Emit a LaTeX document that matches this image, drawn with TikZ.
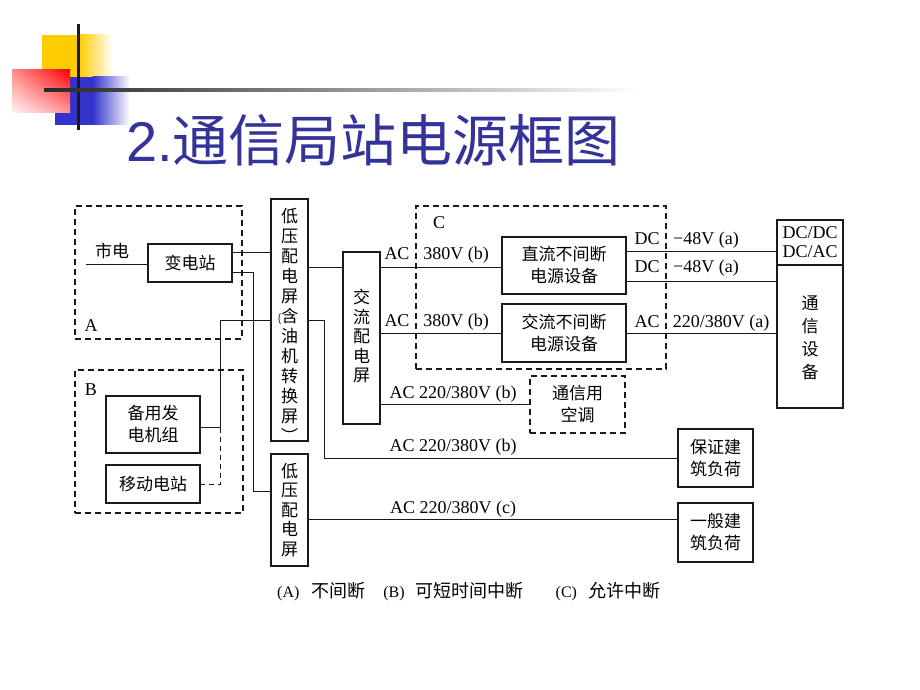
\documentclass[tikz,border=0pt]{standalone}
\usepackage{fontspec}
\setmainfont{Liberation Serif}
\newfontfamily\cjk{Noto Sans CJK SC}
\newfontfamily\titlesans{Liberation Sans}
\usetikzlibrary{calc,shadings}
\definecolor{titleblue}{HTML}{333399}
\definecolor{lyellow}{HTML}{FFCC00}
\definecolor{lblue}{HTML}{3333CC}
\definecolor{lred}{HTML}{FF0000}
\definecolor{ink}{HTML}{1A1A1A}
\tikzset{
  box/.style={draw=ink, line width=1.6pt, inner sep=0pt, align=center, font=\cjk\fontsize{17}{22}\selectfont},
  dbox/.style={draw=ink, line width=1.6pt, dash pattern=on 6pt off 4pt, inner sep=0pt, align=center, font=\cjk\fontsize{17}{22}\selectfont},
  wire/.style={draw=ink, line width=0.9pt},
  dwire/.style={draw=ink, line width=0.9pt, dash pattern=on 5pt off 4pt},
  lbl/.style={inner sep=0pt, text height=12pt, text depth=0pt, font=\fontsize{18}{20}\selectfont},
  cjklbl/.style={inner sep=0pt, text height=13pt, text depth=0pt, font=\cjk\fontsize{17}{20}\selectfont},
  vtxt/.style={inner sep=0pt, align=center, font=\cjk\fontsize{17}{19.5}\selectfont},
}
\begin{document}
\begin{tikzpicture}[x=1pt,y=-1pt]
\useasboundingbox (0,0) rectangle (920,690);
\fill[white] (0,0) rectangle (920,690);
% ---- logo ----
\fill[lyellow] (42,35) rectangle (79,77);
\shade[left color=lyellow, right color=white] (78.5,35) rectangle (113,77);
\fill[lblue] (55,77) rectangle (93,125);
\shade[left color=lblue, right color=white] (92.5,77) rectangle (130,125);
\shade[upper right=lred, upper left=red!45, lower left=red!4, lower right=red!40] (12,70) rectangle (70,113);
\draw[line width=3pt, ink] (78,24) -- (78,130);
\shade[left color=black!85, right color=white] (44,88.5) rectangle (640,91.5);
% ---- title ----
\node[anchor=base west, inner sep=0pt, text=titleblue] (title) at (126,161)
  {\titlesans\fontsize{56}{60}\selectfont 2.{\cjk 通信局站电源框图}};
% ---- group boxes ----
\node[dbox, minimum width=167, minimum height=133] (grpA) at (158.5,272.5) {};
\node[dbox, minimum width=168, minimum height=143] (grpB) at (159,441.5) {};
\node[dbox, minimum width=250, minimum height=163] (grpC) at (541,287.5) {};
\node[lbl] (la) at (91,325) {A};
\node[lbl] (lb) at (91,389) {B};
\node[lbl] (lc) at (439,222) {C};
% ---- boxes ----
\node[cjklbl] (sd) at (112,251) {市电};
\coordinate (sdc) at (86,264);
\node[box, minimum width=84, minimum height=38] (bdz) at (190,263) {变电站};
\node[box, minimum width=37, minimum height=242] (dy1) at (289.5,320) {};
\node[vtxt, font=\cjk\fontsize{17}{20}\selectfont] (dy1t) at (289.5,325)
  {低\\压\\配\\电\\屏\\\hspace*{-3pt}{\fontsize{11}{11}\selectfont(}含\\油\\机\\转\\换\\屏\\︶};
\node[box, minimum width=37, minimum height=112] (dy2) at (289.5,510) {};
\node[vtxt] (dy2t) at (289.5,510) {低\\压\\配\\电\\屏};
\node[box, minimum width=37, minimum height=172] (jl) at (361.5,338) {};
\node[vtxt] (jlt) at (361.5,336) {交\\流\\配\\电\\屏};
\node[box, minimum width=94, minimum height=57] (fdj) at (153,424.5) {备用发\\电机组};
\node[box, minimum width=94, minimum height=38] (yd) at (153,484) {移动电站};
\node[box, minimum width=124, minimum height=57] (zl) at (564,265.5) {直流不间断\\电源设备};
\node[box, minimum width=124, minimum height=58] (jlu) at (564,333) {交流不间断\\电源设备};
\node[box, minimum width=66, minimum height=45, font=\fontsize{18}{19}\selectfont] (txa) at (810,242.5) {DC/DC\\DC/AC};
\node[box, minimum width=66, minimum height=143] (txb) at (810,336.5) {};
\node[vtxt, font=\cjk\fontsize{17}{23}\selectfont] (txbt) at (810,338) {通\\信\\设\\备};
\node[dbox, minimum width=95, minimum height=57] (kt) at (577.5,404.5) {通信用\\空调};
\node[box, minimum width=75, minimum height=58] (bz) at (715.5,458) {保证建\\筑负荷};
\node[box, minimum width=75, minimum height=59] (yb) at (715.5,532.5) {一般建\\筑负荷};
% ---- labels ----
\node[lbl] (ac1) at (397,253) {AC};
\node[lbl] (v1) at (456,253) {380V (b)};
\node[lbl] (ac2) at (397,320) {AC};
\node[lbl] (v2) at (456,320) {380V (b)};
\node[lbl] (dc1) at (647,238) {DC};
\node[lbl] (dv1) at (706,238) {−48V (a)};
\node[lbl] (dc2) at (647,266) {DC};
\node[lbl] (dv2) at (706,266) {−48V (a)};
\node[lbl] (ac3) at (647,321) {AC};
\node[lbl] (av3) at (721,321) {220/380V (a)};
\node[lbl] (l4) at (453,392) {AC 220/380V (b)};
\node[lbl] (l5) at (453,445) {AC 220/380V (b)};
\node[lbl] (l6) at (453,507) {AC 220/380V (c)};
% ---- wires ----
\draw[wire] (sdc) -- (sdc -| bdz.west);
\draw[wire] ([yshift=11pt]bdz.east) -- ([yshift=11pt]bdz.east -| dy1.west);
\draw[wire] ([yshift=-9pt]bdz.east) -- ++(21,0) |- ([yshift=19pt]dy2.west);
\draw[wire] (dy1.west) -- ++(-50,0) coordinate (g1) |- ([yshift=-3pt]fdj.east);
\draw[dwire] ([yshift=-3pt]fdj.east -| g1) |- (yd.east);
\draw[wire] ([yshift=53pt]dy1.east) -- ([yshift=53pt]dy1.east -| jl.west);
\draw[wire] (dy1.east) -- ++(16,0) |- (bz.west);
\draw[wire] ([yshift=-1.5pt]zl.west -| jl.east) -- ([yshift=-1.5pt]zl.west);
\draw[wire] (jlu.west -| jl.east) -- (jlu.west);
\draw[wire] (kt.west -| jl.east) -- (kt.west);
\draw[wire] ([yshift=-9pt]dy2.east) -- ([yshift=-9pt]dy2.east -| yb.west);
\draw[wire] ([yshift=14.5pt]zl.east) -- ([yshift=14.5pt]zl.east -| txa.west);
\draw[wire] ([yshift=-15.5pt]zl.east) -- ([yshift=-15.5pt]zl.east -| txb.west);
\draw[wire] (jlu.east) -- (jlu.east -| txb.west);
% ---- caption ----
\node[anchor=base west, inner sep=0pt, font=\fontsize{16}{18}\selectfont] (cap) at (277,597)
  {(A)\hspace{12pt}{\cjk\fontsize{18}{18}\selectfont 不间断}\hspace{18pt}(B)\hspace{11pt}{\cjk\fontsize{18}{18}\selectfont 可短时间中断}\hspace{32pt}(C)\hspace{11pt}{\cjk\fontsize{18}{18}\selectfont 允许中断}};
\end{tikzpicture}
\end{document}
